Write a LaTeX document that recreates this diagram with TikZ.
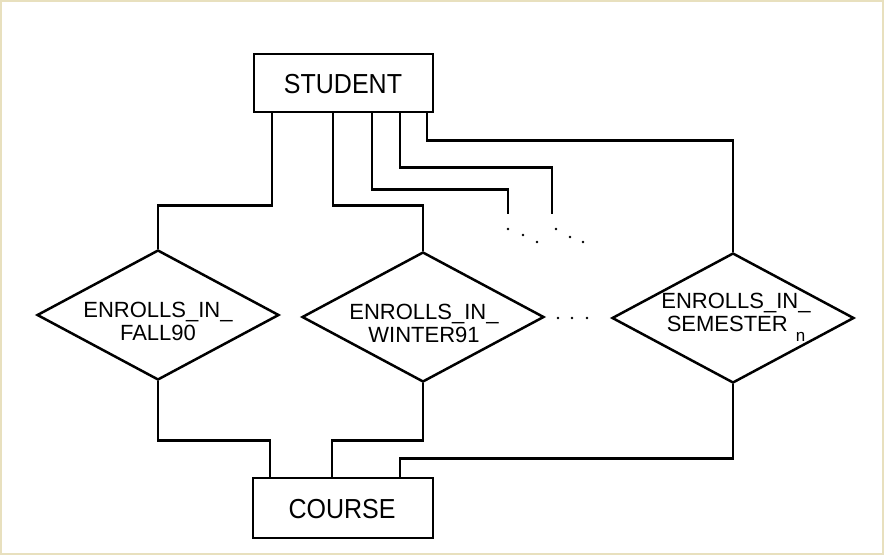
\documentclass[tikz,border=0pt]{standalone}
\usepackage{fontspec}
\setmainfont{Liberation Sans}
\usetikzlibrary{shapes.geometric}
\definecolor{framecol}{RGB}{232,224,190}
\begin{document}
\begin{tikzpicture}[x=1pt,y=-1pt,
  line width=2.5pt, line join=miter,
  entity/.style={draw, rectangle, inner sep=0pt},
  relship/.style={draw, diamond, inner sep=0pt, minimum width=242pt, minimum height=130pt},
  reltext/.style={align=center, inner sep=0pt, font=\fontsize{22}{23}\selectfont},
  boxtext/.style={inner sep=0pt, font=\fontsize{25}{25}\selectfont},
  conn/.style={line width=2.5pt},
  dot/.style={circle, fill, inner sep=0pt, minimum size=2.8pt}]
  % page frame
  \path[use as bounding box] (0,0) rectangle (884,555);
  \draw[framecol, line width=2pt] (1,1) rectangle (883,554);

  % entities
  \node[entity, minimum width=179pt, minimum height=58pt] (student) at (343.5,83) {};
  \node[boxtext] (studentlbl) at (343,84) {\scalebox{1}[1.1]{STUDENT}};
  \node[entity, minimum width=180pt, minimum height=60pt] (course) at (343,508) {};
  \node[boxtext] (courselbl) at (342,509) {\scalebox{1}[1.1]{COURSE}};

  % relationships
  \node[relship] (d1) at (158,315) {};
  \node[relship] (d2) at (423,317) {};
  \node[relship] (d3) at (733,318) {};
  \node[reltext] (t1) at (158,321) {ENROLLS\_IN\_\\FALL90};
  \node[reltext] (t2) at (424,323) {ENROLLS\_IN\_\\WINTER91};
  \node[reltext] (t3) at (736,317) {ENROLLS\_IN\_\\SEMESTER\hspace{8pt}\raisebox{-10pt}{\fontsize{17}{17}\selectfont n}};

  % open ends of the elided relationships
  \coordinate (c3) at (508,214);
  \coordinate (c4) at (552,214);

  % STUDENT to relationships
  \draw[conn] ([xshift=-71.5pt]student.south) -- ++(0,92) -| (d1.north);
  \draw[conn] ([xshift=-10.5pt]student.south) -- ++(0,92) -| (d2.north);
  \draw[conn] ([xshift=28.5pt]student.south) -- ++(0,76) -| (c3);
  \draw[conn] ([xshift=56.5pt]student.south) -- ++(0,54) -| (c4);
  \draw[conn] ([xshift=83.5pt]student.south) -- ++(0,27) -| (d3.north);

  % relationships to COURSE
  \draw[conn] (d1.south) -- ++(0,59) -| ([xshift=-73pt]course.north);
  \draw[conn] (d2.south) -- ++(0,57) -| ([xshift=-11pt]course.north);
  \draw[conn] (d3.south) -- ++(0,74) -| ([xshift=57pt]course.north);

  % ellipsis dots
  \foreach \px/\py [count=\i] in {508/229, 523/235, 537/242, 556/229, 570/237, 583/242} {
    \node[dot] (e\i) at (\px,\py) {};
  }
  \foreach \px [count=\i] in {558, 572, 587} {
    \node[dot] (m\i) at (\px,318) {};
  }
\end{tikzpicture}
\end{document}
